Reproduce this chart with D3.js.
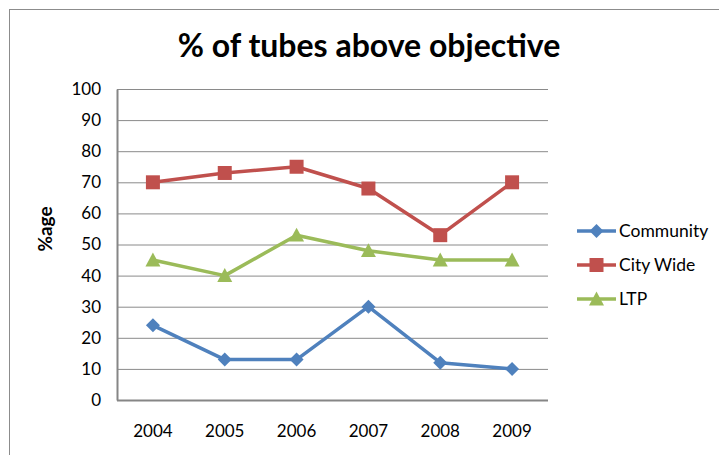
<!DOCTYPE html>
<html><head><meta charset="utf-8">
<script src="https://cdn.jsdelivr.net/npm/d3@7"></script>
<style>body{margin:0;background:#fff}svg{display:block}</style>
</head><body>
<script>
const years = ["2004","2005","2006","2007","2008","2009"];
const community = [24,13,13,30,12,10];
const cityWide = [70,73,75,68,53,70];
const ltp = [45,40,53,48,45,45];
const yTicks = [0,10,20,30,40,50,60,70,80,90,100];
const seriesNames = ["Community","City Wide","LTP"];

const W=719,H=455;
const font="Lato, 'Open Sans', sans-serif";
const svg=d3.select("body").append("svg").attr("width",W).attr("height",H);
svg.append("rect").attr("x",9.5).attr("y",9.5).attr("width",W+20).attr("height",H+20)
  .attr("fill","#fff").attr("stroke","#8c8c8c").attr("stroke-width",1);

const L=117,R=548,T=89,B=400;
const x=d3.scaleBand().domain(years).range([L,R]);
const y=d3.scaleLinear().domain([0,100]).range([B,T]);

svg.append("g").selectAll("line").data(yTicks.filter(d=>d>0)).join("line")
  .attr("x1",L).attr("x2",R).attr("y1",d=>y(d)+0.5).attr("y2",d=>y(d)+0.5)
  .attr("stroke","#8a8a8a").attr("stroke-width",1);

const ya=svg.append("g").attr("transform",`translate(${L},0)`)
  .call(d3.axisLeft(y).tickValues(yTicks).tickSize(0).tickPadding(16));
ya.select(".domain").attr("stroke","#868686").attr("stroke-width",2);
ya.selectAll("text").attr("font-family",font).attr("font-size",17).attr("fill","#000");

const xa=svg.append("g").attr("transform",`translate(0,${B})`)
  .call(d3.axisBottom(x).tickSize(0).tickPadding(25));
xa.select(".domain").attr("stroke","#868686").attr("stroke-width",2).attr("d",`M${L},0.5H${R}`);
xa.selectAll("text").attr("font-family",font).attr("font-size",17).attr("fill","#000");

svg.append("text").attr("x",369).attr("y",57).attr("text-anchor","middle")
  .attr("font-family",font).attr("font-weight","bold").attr("font-size",32).text("% of tubes above objective");
svg.append("text").attr("transform","translate(52,229) rotate(-90)").attr("text-anchor","middle")
  .attr("font-family",font).attr("font-weight","bold").attr("font-size",19).text("%age");

const colors=["#4F81BD","#C0504D","#9BBB59"];
const data=[community,cityWide,ltp];
const sizes=[7,7,7.5];
function marker(g,i,cx,cy){
  let p;
  if(i===0){const s=sizes[0];p=`M${cx},${cy-s}L${cx+s},${cy}L${cx},${cy+s}L${cx-s},${cy}Z`;}
  else if(i===1){const s=sizes[1];p=`M${cx-s},${cy-s}H${cx+s}V${cy+s}H${cx-s}Z`;}
  else {const s=sizes[2];p=`M${cx},${cy-s}L${cx+s},${cy+s*0.85}L${cx-s},${cy+s*0.85}Z`;}
  g.append("path").attr("d",p).attr("fill",colors[i]);
}
const line=d3.line().x((d,j)=>x(years[j])+x.bandwidth()/2).y(d=>y(d));
data.forEach((vals,i)=>{
  const g=svg.append("g");
  g.append("path").attr("d",line(vals)).attr("fill","none").attr("stroke",colors[i])
    .attr("stroke-width",3.5).attr("stroke-linejoin","round");
  vals.forEach((v,j)=>marker(g,i,x(years[j])+x.bandwidth()/2,y(v)));
});

const ly=[231,265,299];
seriesNames.forEach((n,i)=>{
  const g=svg.append("g");
  g.append("line").attr("x1",577).attr("x2",616).attr("y1",ly[i]).attr("y2",ly[i])
    .attr("stroke",colors[i]).attr("stroke-width",3.5);
  marker(g,i,596.5,ly[i]);
  g.append("text").attr("x",619).attr("y",ly[i]+6).attr("font-family",font).attr("font-size",17.5).text(n);
});
</script>
</body></html>
